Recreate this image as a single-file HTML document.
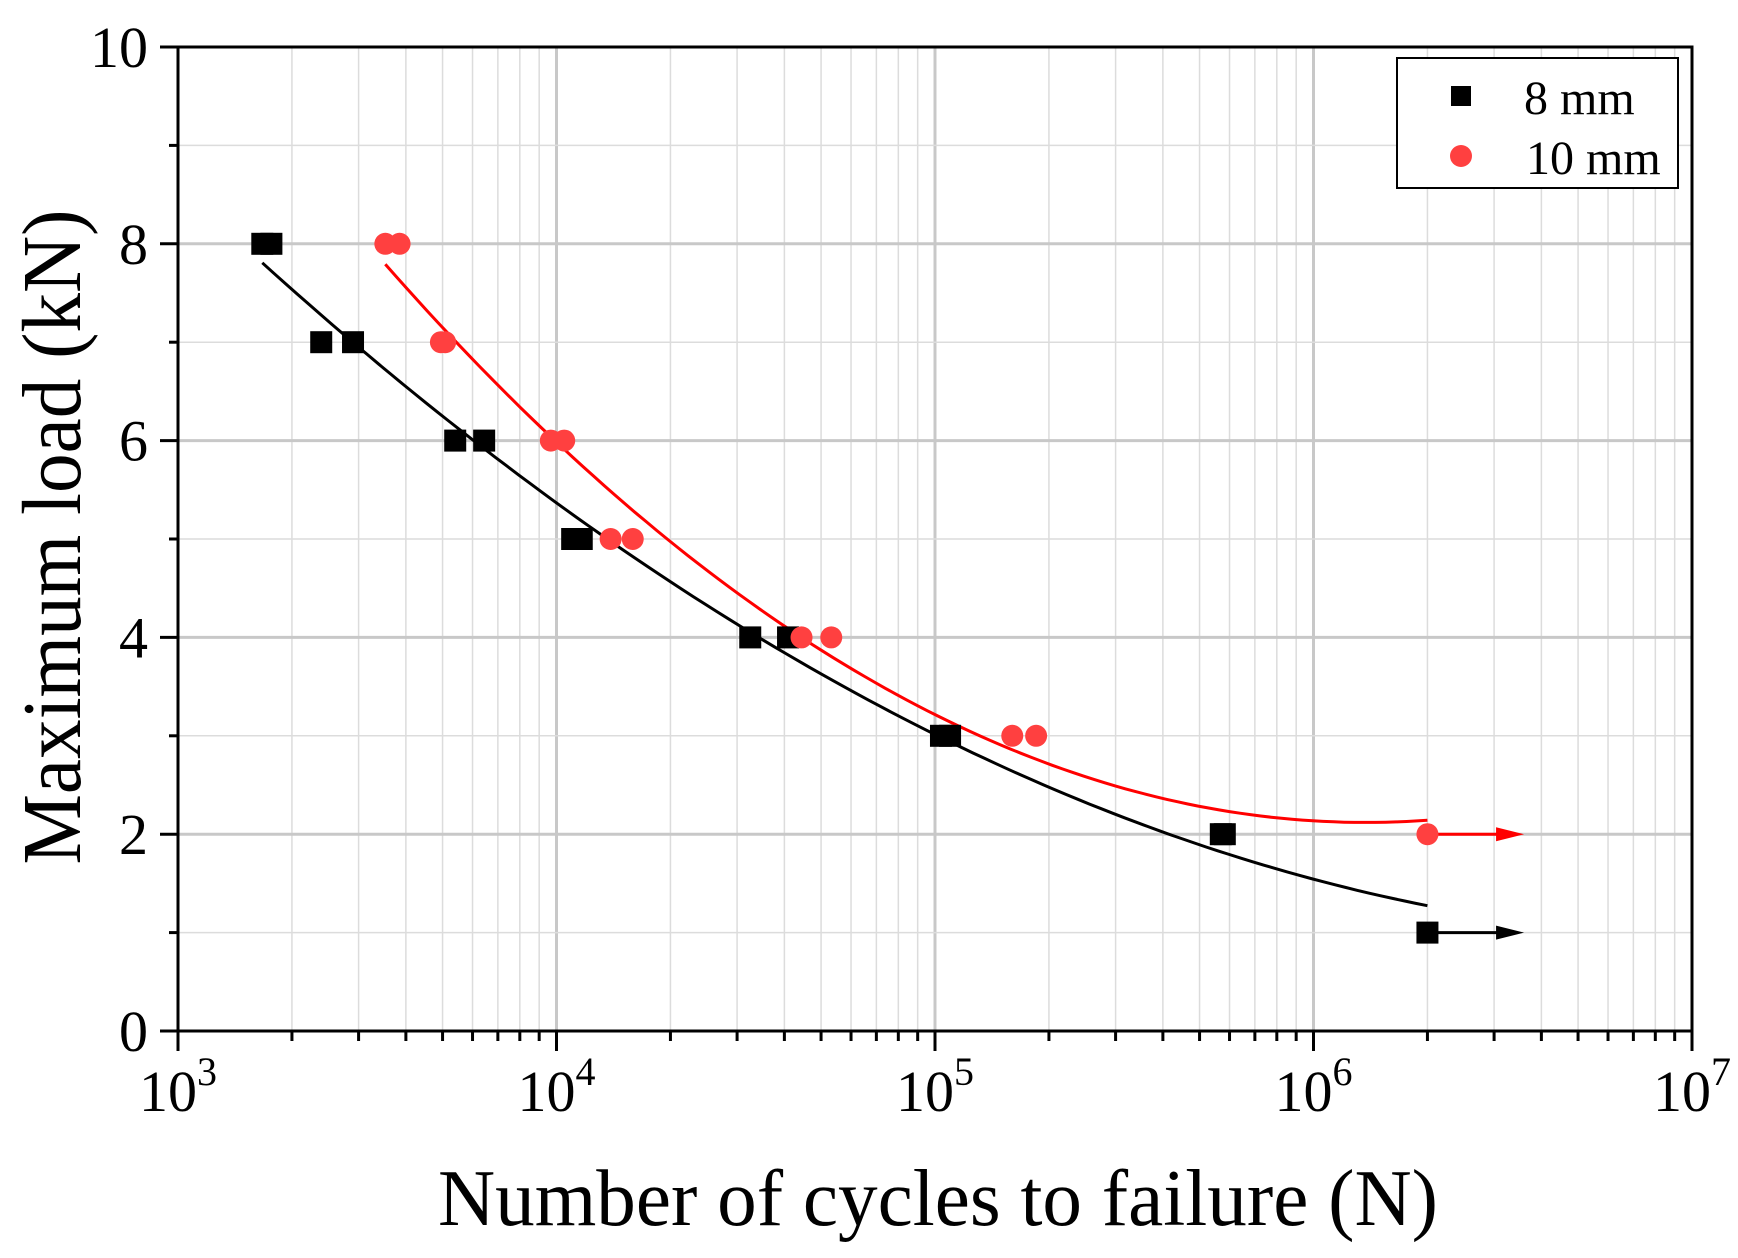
<!DOCTYPE html>
<html><head><meta charset="utf-8"><style>
body{margin:0;background:#fff}
svg text{font-family:"Liberation Serif",serif;fill:#000}
</style></head><body>
<svg id="chart" width="1738" height="1253" viewBox="0 0 1738 1253" xmlns="http://www.w3.org/2000/svg">
<g id="grid"></g>
<g id="axes"></g>
<g id="series"></g>
<text x="938" y="1225" font-size="80" text-anchor="middle" textLength="1000" lengthAdjust="spacingAndGlyphs">Number of cycles to failure (N)</text>
<text transform="translate(80,537) rotate(-90)" font-size="84" text-anchor="middle" textLength="655" lengthAdjust="spacingAndGlyphs">Maximum load (kN)</text>
<g>
<rect x="1397" y="58" width="281" height="130" fill="#fff" stroke="#000" stroke-width="2"/>
<rect x="1451" y="86" width="20" height="20" fill="#000"/>
<text x="1524" y="114" font-size="48">8 mm</text>
<circle cx="1461" cy="156" r="11" fill="#ff4040"/>
<text x="1526" y="174" font-size="48">10 mm</text>
</g>
</svg>
<script>
const xDecades=[3,4,5,6,7];
const yTicks=[0,2,4,6,8,10];
const load8=[8,8,7,7,6,6,5,5,4,4,3,3,2,2,1];
const cycles8=[1670,1765,2390,2900,5400,6440,11000,11660,32500,40900,103700,109600,569000,583000,2000000];
const load10=[8,8,7,7,6,6,5,5,4,4,3,3,2];
const cycles10=[3530,3850,4950,5080,9660,10480,13900,15900,44400,53200,160000,185000,2000000];
const runoutEnd=3600000;
const L=178,R=1692,T=47,B=1031;
const sx=v=>L+(Math.log10(v)-3)/4*(R-L);
const sy=v=>B-v/10*(B-T);
const NS='http://www.w3.org/2000/svg';
function mk(p,t,a){const e=document.createElementNS(NS,t);for(const k in a)e.setAttribute(k,a[k]);p.appendChild(e);return e;}
const grid=document.getElementById('grid'),axes=document.getElementById('axes'),ser=document.getElementById('series');
for(let d=3;d<7;d++)for(let m=1;m<10;m++){const x=sx(m*Math.pow(10,d));
 const g=mk(grid,'line',{x1:x,x2:x,y1:T,y2:B,stroke:m==1?'#c8c8c8':'#dcdcdc','stroke-width':m==1?3:1.5});
 
 }
for(let v=1;v<10;v++){const y=sy(v);
 const g=mk(grid,'line',{x1:L,x2:R,y1:y,y2:y,stroke:v%2==0?'#c8c8c8':'#dcdcdc','stroke-width':v%2==0?3:1.5});
 
 }
const fr=mk(axes,'rect',{x:L,y:T,width:R-L,height:B-T,fill:'none',stroke:'#000','stroke-width':3});


for(let d=3;d<7;d++)for(let m=2;m<10;m++){const x=sx(m*Math.pow(10,d));
 const t=mk(axes,'line',{x1:x,x2:x,y1:B,y2:B+10,stroke:'#000','stroke-width':3});
 
 }
xDecades.forEach(d=>{const x=sx(Math.pow(10,d));
 const t=mk(axes,'line',{x1:x,x2:x,y1:B,y2:B+20,stroke:'#000','stroke-width':3});
 
 
 const tx=mk(axes,'text',{x:x,y:B+80,'font-size':58,'text-anchor':'middle'});
 
 
 tx.innerHTML='10<tspan dy="-26" font-size="40">'+d+'</tspan>';});
for(let v=0;v<=10;v++){const y=sy(v);
 const t=mk(axes,'line',{x1:L-(v%2==0?18:9),x2:L,y1:y,y2:y,stroke:'#000','stroke-width':3});
 
 }
yTicks.forEach(v=>{const t=mk(axes,'text',{x:L-30,y:sy(v)+20,'font-size':58,'text-anchor':'end'});
 
 
 t.textContent=v;});
function fit(xs,ys){let S=[0,0,0,0,0],Ty=[0,0,0];for(let i=0;i<xs.length;i++){const u=Math.log10(xs[i]);for(let k=0;k<5;k++)S[k]+=Math.pow(u,k);for(let k=0;k<3;k++)Ty[k]+=ys[i]*Math.pow(u,k);}
 const M=[[S[0],S[1],S[2],Ty[0]],[S[1],S[2],S[3],Ty[1]],[S[2],S[3],S[4],Ty[2]]];
 for(let i=0;i<3;i++){for(let j=i+1;j<3;j++){const f=M[j][i]/M[i][i];for(let k=i;k<4;k++)M[j][k]-=f*M[i][k];}}
 const c=[0,0,0];for(let i=2;i>=0;i--){let s=M[i][3];for(let k=i+1;k<3;k++)s-=M[i][k]*c[k];c[i]=s/M[i][i];}return c;}
function curve(xs,ys,col,name){const c=fit(xs,ys);const a=Math.log10(Math.min(...xs)),b=Math.log10(Math.max(...xs));let d='';
 for(let i=0;i<=100;i++){const u=a+(b-a)*i/100;const v=c[0]+c[1]*u+c[2]*u*u;d+=(i?'L':'M')+sx(Math.pow(10,u)).toFixed(1)+','+sy(v).toFixed(1);}
 const p=mk(ser,'path',{d:d,fill:'none',stroke:col,'stroke-width':3});
 
 }
curve(cycles8,load8,'#000','fit-curve-8mm');
curve(cycles10,load10,'#f00','fit-curve-10mm');
function arrow(x0,v,col,name){const y=sy(v),x1=sx(x0),x2=sx(runoutEnd);
 const l=mk(ser,'line',{x1:x1,x2:x2-22,y1:y,y2:y,stroke:col,'stroke-width':3});
 
 
 const h=mk(ser,'polygon',{points:`${x2},${y} ${x2-28},${y-7} ${x2-28},${y+7}`,fill:col});
 
 }
arrow(cycles8[cycles8.length-1],load8[load8.length-1],'#000','runout-arrow-8mm');
arrow(cycles10[cycles10.length-1],load10[load10.length-1],'#f00','runout-arrow-10mm');
cycles8.forEach((c,i)=>{const r=mk(ser,'rect',{x:sx(c)-11,y:sy(load8[i])-11,width:22,height:22,fill:'#000'});
 
 });
cycles10.forEach((c,i)=>{const r=mk(ser,'circle',{cx:sx(c),cy:sy(load10[i]),r:11,fill:'#ff4040'});
 
 });
</script>
</body></html>
